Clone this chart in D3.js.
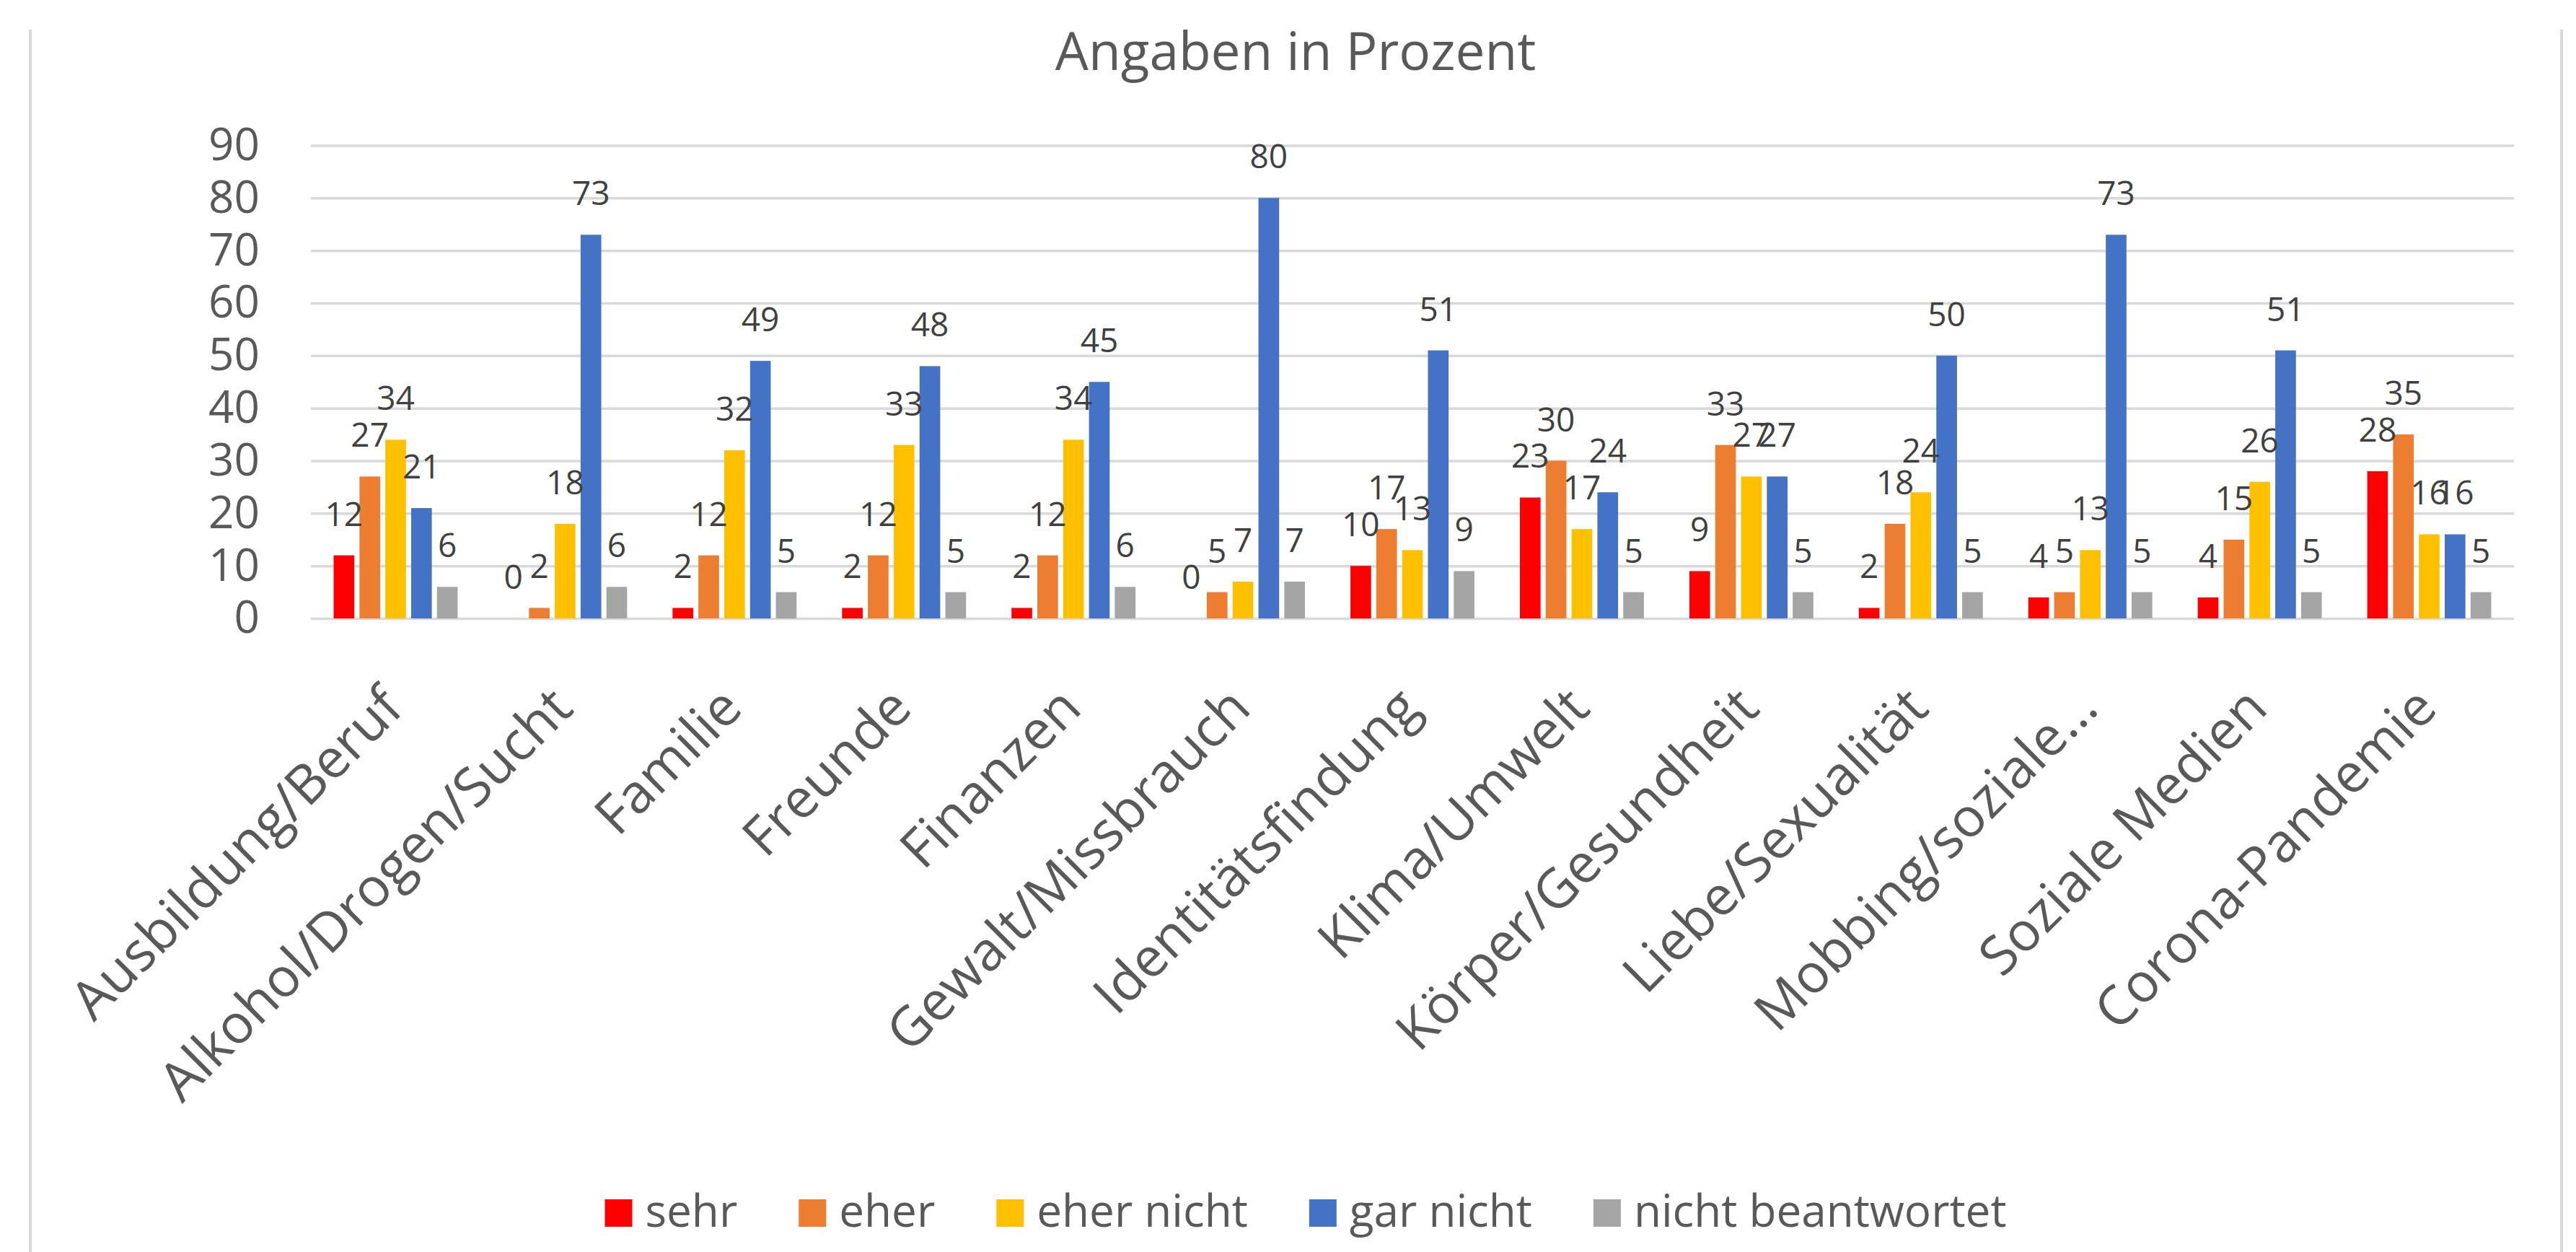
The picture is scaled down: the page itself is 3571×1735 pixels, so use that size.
<!DOCTYPE html>
<html>
<head>
<meta charset="utf-8">
<title>Angaben in Prozent</title>
<script src="https://cdn.jsdelivr.net/npm/d3@7"></script>
<style>
  body { margin: 0; background: #fff; }
  text { font-family: "Open Sans", "Noto Sans", sans-serif; }
</style>
</head>
<body>
<div id="chart"></div>
<script>
// categories and series
var categories = ["Ausbildung/Beruf", "Alkohol/Drogen/Sucht", "Familie", "Freunde", "Finanzen",
  "Gewalt/Missbrauch", "Identitätsfindung", "Klima/Umwelt", "Körper/Gesundheit",
  "Liebe/Sexualität", "Mobbing/soziale…", "Soziale Medien", "Corona-Pandemie"];
var seriesNames = ["sehr", "eher", "eher nicht", "gar nicht", "nicht beantwortet"];
var seriesColors = ["#ff0000", "#ed7d31", "#ffc000", "#4472c4", "#a5a5a5"];

// values (percent)
var sehr             = [12, 0, 2, 2, 2, 0, 10, 23, 9, 2, 4, 4, 28];
var eher             = [27, 2, 12, 12, 12, 5, 17, 30, 33, 18, 5, 15, 35];
var eherNicht        = [34, 18, 32, 33, 34, 7, 13, 17, 27, 24, 13, 26, 16];
var garNicht         = [21, 73, 49, 48, 45, 80, 51, 24, 27, 50, 73, 51, 16];
var nichtBeantwortet = [6, 6, 5, 5, 6, 7, 9, 5, 5, 5, 5, 5, 5];
var yTicks = [0, 10, 20, 30, 40, 50, 60, 70, 80, 90];

var seriesValues = [sehr, eher, eherNicht, garNicht, nichtBeantwortet];

(function() {
  var W = 3571, H = 1735;
  var plotLeft = 431, plotRight = 3485, plotTop = 201.5, plotBottom = 857;

  var svg = d3.select("#chart").append("svg")
    .attr("width", W)
    .attr("height", H);

  svg.append("rect").attr("width", W).attr("height", H).attr("fill", "#fff");

  // chart frame (only the sides are visible)
  svg.append("line").attr("x1", 42).attr("x2", 42).attr("y1", 41).attr("y2", H)
    .attr("stroke", "#d9d9d9").attr("stroke-width", 4);
  svg.append("line").attr("x1", 3551).attr("x2", 3551).attr("y1", 41).attr("y2", H)
    .attr("stroke", "#d9d9d9").attr("stroke-width", 4);

  // title
  svg.append("text")
    .attr("x", 1796).attr("y", 97)
    .attr("text-anchor", "middle")
    .attr("font-size", 73)
    .attr("fill", "#595959")
    .text("Angaben in Prozent");

  var x0 = d3.scaleBand().domain(categories).range([plotLeft, plotRight]).padding(0);
  var x1 = d3.scaleBand().domain(seriesNames).range([0, x0.bandwidth()])
    .paddingInner(0.2).paddingOuter(0.88);
  var y = d3.scaleLinear().domain([0, 90]).range([plotBottom, plotTop]);

  // y axis with gridlines
  var yAxis = svg.append("g")
    .attr("transform", "translate(" + plotLeft + ",0)")
    .call(d3.axisLeft(y).tickValues(yTicks).tickSize(-(plotRight - plotLeft)).tickPadding(71));
  yAxis.select(".domain").remove();
  yAxis.selectAll(".tick line").attr("stroke", "#d9d9d9").attr("stroke-width", 3.5);
  yAxis.selectAll(".tick text")
    .attr("font-size", 62)
    .attr("font-family", "\"Open Sans\", sans-serif")
    .attr("fill", "#595959");

  // bars
  var rows = categories.map(function(c, i) {
    return { cat: c, vals: seriesNames.map(function(s, j) {
      return { name: s, value: seriesValues[j][i], color: seriesColors[j] };
    }) };
  });

  var groups = svg.selectAll("g.group")
    .data(rows)
    .enter().append("g")
    .attr("class", "group")
    .attr("transform", function(d) { return "translate(" + x0(d.cat) + ",0)"; });

  groups.selectAll("rect")
    .data(function(d) { return d.vals; })
    .enter().append("rect")
    .attr("x", function(d) { return x1(d.name); })
    .attr("y", function(d) { return y(d.value); })
    .attr("width", x1.bandwidth())
    .attr("height", function(d) { return y(0) - y(d.value); })
    .attr("fill", function(d) { return d.color; });

  // data labels
  groups.selectAll("text")
    .data(function(d) { return d.vals; })
    .enter().append("text")
    .attr("x", function(d) { return x1(d.name) + x1.bandwidth() / 2; })
    .attr("y", function(d) { return y(d.value) - 41; })
    .attr("text-anchor", "middle")
    .attr("font-size", 46)
    .attr("fill", "#404040")
    .text(function(d) { return d.value; });

  // category labels, rotated, baseline ends just right of the group centre
  svg.selectAll("text.cat")
    .data(categories)
    .enter().append("text")
    .attr("class", "cat")
    .attr("transform", function(d) {
      return "translate(" + (x0(d) + x0.bandwidth() / 2 + 14) + ",985) rotate(-45)";
    })
    .attr("text-anchor", "end")
    .attr("font-size", 75)
    .attr("fill", "#595959")
    .text(function(d) { return d; });

  // legend
  var legend = svg.append("g").attr("class", "legend");
  var items = legend.selectAll("g")
    .data(seriesNames)
    .enter().append("g");
  items.append("rect")
    .attr("width", 38).attr("height", 38)
    .attr("y", 1662)
    .attr("fill", function(d, i) { return seriesColors[i]; });
  items.append("text")
    .attr("x", 56).attr("y", 1700)
    .attr("font-size", 62)
    .attr("fill", "#595959")
    .text(function(d) { return d; });

  var offsets = [], pos = 0;
  items.each(function() {
    offsets.push(pos);
    pos += 56 + this.querySelector("text").getComputedTextLength() + 85;
  });
  var total = pos - 85;
  var startX = 1810 - total / 2;
  items.attr("transform", function(d, i) { return "translate(" + (startX + offsets[i]) + ",0)"; });
})();
</script>
</body>
</html>
